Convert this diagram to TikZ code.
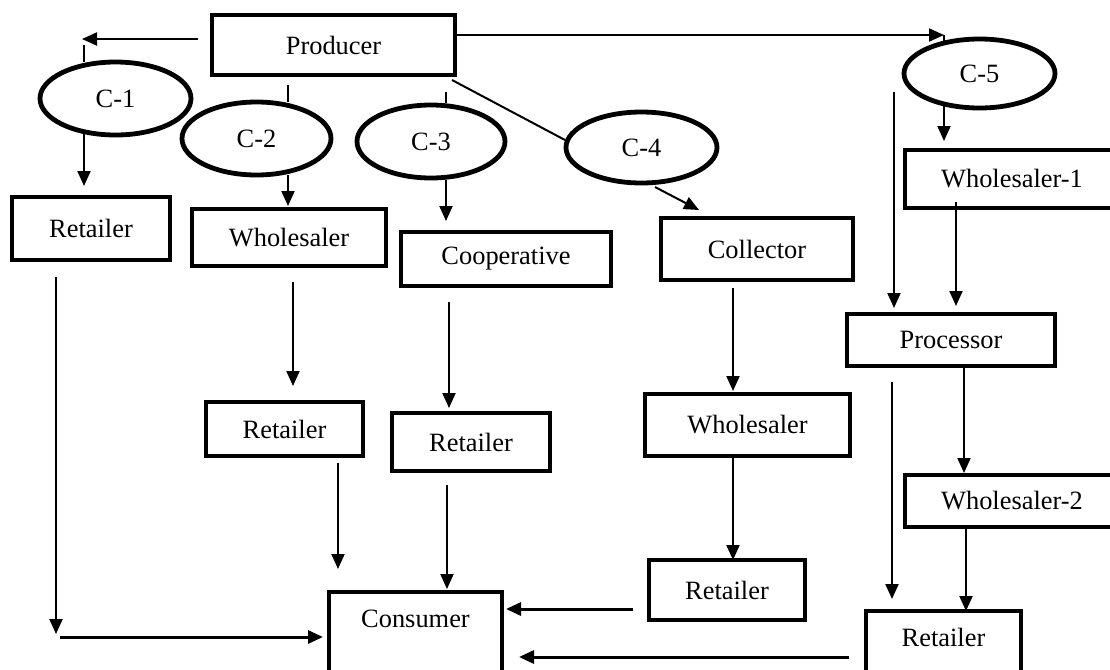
\documentclass[tikz,border=0pt]{standalone}
\usepackage{fontspec}
\setmainfont{Liberation Serif}
\usetikzlibrary{shapes.geometric,arrows.meta}
\begin{document}
\begin{tikzpicture}[x=0.5pt,y=-0.5pt,
  box/.style={draw,line width=2pt,rectangle,inner sep=0pt,font=\fontsize{13.2}{16}\selectfont},
  oval/.style={draw,line width=2.4pt,ellipse,inner sep=0pt,font=\fontsize{13.2}{16}\selectfont},
  arr/.style={line width=1pt,-{Triangle[length=7.5pt,width=6.5pt]}},
  harr/.style={line width=1.5pt,-{Triangle[length=7.5pt,width=6.5pt]}},
  ln/.style={line width=1pt}]
\useasboundingbox (0,0) rectangle (1110,670);
% boxes
\node[box,minimum width=121.5pt,minimum height=30pt] (prod) at (333.5,45) {Producer};
\node[box,minimum width=79pt,minimum height=31.5pt] (r1) at (91,228.5) {Retailer};
\node[box,minimum width=97pt,minimum height=28.5pt] (w2) at (289,237.5) {Wholesaler};
\node[box,minimum width=105pt,minimum height=27pt] (coop) at (506,259) {Cooperative};
\node[box,minimum width=96pt,minimum height=31pt] (coll) at (757,249) {Collector};
\node[box,minimum width=107pt,minimum height=29pt] (w51) at (1012,179) {Wholesaler-1};
\node[box,minimum width=104pt,minimum height=26pt] (proc) at (951,340) {Processor};
\node[box,minimum width=78.5pt,minimum height=27pt] (r2) at (284.5,429) {Retailer};
\node[box,minimum width=79pt,minimum height=29pt] (r3) at (471,442) {Retailer};
\node[box,minimum width=102.5pt,minimum height=31pt] (w4) at (747.5,425) {Wholesaler};
\node[box,minimum width=78pt,minimum height=30pt] (r4) at (727,590) {Retailer};
\node[box,minimum width=107pt,minimum height=26pt] (w52) at (1012,501) {Wholesaler-2};
\node[box,minimum width=86.5pt,minimum height=53pt,text height=9pt,text depth=27pt] (cons) at (415.5,645) {Consumer};
\node[box,minimum width=77.5pt,minimum height=43.5pt,text height=9pt,text depth=17.5pt] (r5) at (943.5,654.5) {Retailer};
% ellipses
\node[oval,minimum width=75.5pt,minimum height=36.5pt] (c1) at (115.5,98.5) {C-1};
\node[oval,minimum width=74.5pt,minimum height=36.5pt] (c2) at (256.5,138.5) {C-2};
\node[oval,minimum width=74pt,minimum height=36.5pt] (c3) at (431,141.5) {C-3};
\node[oval,minimum width=75.5pt,minimum height=35.5pt] (c4) at (641.5,147.5) {C-4};
\node[oval,minimum width=75.5pt,minimum height=34.5pt] (c5) at (979.5,73.5) {C-5};
% free ends of connectors
\coordinate (a1s) at (198,39);  \coordinate (a1e) at (82,39);
\coordinate (t1s) at (84,45);   \coordinate (t1e) at (84,62);
\coordinate (a2s) at (84,134);  \coordinate (a2e) at (84,186);
\coordinate (t2s) at (288,85);  \coordinate (t2e) at (288,102);
\coordinate (a3s) at (288,175); \coordinate (a3e) at (288,206);
\coordinate (t3s) at (446,92);  \coordinate (t3e) at (446,103);
\coordinate (a4s) at (446,180); \coordinate (a4e) at (446,221);
\coordinate (d4s) at (452,80);  \coordinate (d4e) at (565,140);
\coordinate (a5s) at (655,187); \coordinate (a5e) at (699,210);
\coordinate (a6s) at (457,35);  \coordinate (a6e) at (944,35);
\coordinate (t6e) at (944,41);
\coordinate (a7s) at (944,106); \coordinate (a7e) at (944,141);
\coordinate (a8s) at (894,92);  \coordinate (a8e) at (894,308);
\coordinate (a9s) at (956,202); \coordinate (a9e) at (956,306);
\coordinate (b1s) at (964,368); \coordinate (b1e) at (964,473);
\coordinate (b2s) at (892,382); \coordinate (b2e) at (892,599);
\coordinate (b3s) at (966,529); \coordinate (b3e) at (966,611);
\coordinate (b4s) at (56,277);  \coordinate (b4e) at (56,634);
\coordinate (b5s) at (60,637);  \coordinate (b5e) at (323,637);
\coordinate (b6s) at (293,282); \coordinate (b6e) at (293,386);
\coordinate (b7s) at (338,463); \coordinate (b7e) at (338,569);
\coordinate (b8s) at (449,302); \coordinate (b8e) at (449,408);
\coordinate (b9s) at (447,485); \coordinate (b9e) at (447,589);
\coordinate (e1s) at (733,288); \coordinate (e1e) at (733,391);
\coordinate (e2s) at (733,458); \coordinate (e2e) at (733,560);
\coordinate (e3s) at (633,609); \coordinate (e3e) at (506,609);
\coordinate (e4s) at (849,657); \coordinate (e4e) at (519,657);
% connectors
\draw[arr] (a1s) -- (a1e);
\draw[ln] (t1s) -- (t1e);
\draw[arr] (a2s) -- (a2e);
\draw[ln] (t2s) -- (t2e);
\draw[arr] (a3s) -- (a3e);
\draw[ln] (t3s) -- (t3e);
\draw[arr] (a4s) -- (a4e);
\draw[ln] (d4s) -- (d4e);
\draw[arr] (a5s) -- (a5e);
\draw[arr] (a6s) -- (a6e);
\draw[ln] (a6e) -- (t6e);
\draw[arr] (a7s) -- (a7e);
\draw[arr] (a8s) -- (a8e);
\draw[arr] (a9s) -- (a9e);
\draw[arr] (b1s) -- (b1e);
\draw[arr] (b2s) -- (b2e);
\draw[arr] (b3s) -- (b3e);
\draw[arr] (b4s) -- (b4e);
\draw[harr] (b5s) -- (b5e);
\draw[arr] (b6s) -- (b6e);
\draw[arr] (b7s) -- (b7e);
\draw[arr] (b8s) -- (b8e);
\draw[arr] (b9s) -- (b9e);
\draw[arr] (e1s) -- (e1e);
\draw[arr] (e2s) -- (e2e);
\draw[harr] (e3s) -- (e3e);
\draw[harr] (e4s) -- (e4e);
\end{tikzpicture}
\end{document}
